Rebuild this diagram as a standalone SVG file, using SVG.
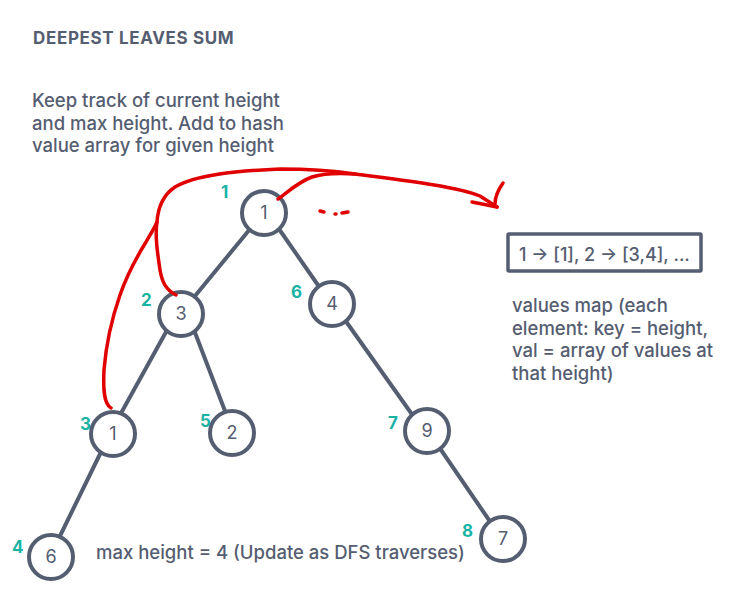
<svg xmlns="http://www.w3.org/2000/svg" width="746" height="607" viewBox="0 0 746 607">
<style>
.t{font-family:Inter,"Noto Sans","Liberation Sans",sans-serif;fill:#555d71;font-weight:500}
.title{font-family:Inter,"Noto Sans","Liberation Sans",sans-serif;fill:#555d71;font-weight:700;font-size:17px;letter-spacing:0.65px}
.node circle{fill:#fff;stroke:#555d71;stroke-width:4}
.node text{font-family:Inter,"Noto Sans","Liberation Sans",sans-serif;font-size:18px;fill:#555d71;text-anchor:middle}
.lbl{font-family:Inter,"Noto Sans","Liberation Sans",sans-serif;font-size:17px;font-weight:700;fill:#1ab3a4}
.edge{stroke:#555d71;stroke-width:4;stroke-linecap:round;fill:none}
.red{stroke:#e10000;stroke-width:3.5;stroke-linecap:round;stroke-linejoin:round;fill:none}
</style>
<rect width="746" height="607" fill="#fff"/>
<text class="title" x="33" y="44">DEEPEST LEAVES SUM</text>
<text class="t" font-size="18.5"><tspan x="32" y="107">Keep track of current height</tspan><tspan x="32" y="129.5">and max height. Add to hash</tspan><tspan x="32" y="152">value array for given height</tspan></text>
<g id="connectors">
<line class="edge" x1="250" y1="229" x2="195" y2="296"/>
<line class="edge" x1="279" y1="229" x2="320" y2="288"/>
<line class="edge" x1="166" y1="332" x2="120" y2="415"/>
<line class="edge" x1="194" y1="330" x2="225" y2="411"/>
<line class="edge" x1="345" y1="320" x2="411" y2="413"/>
<line class="edge" x1="439" y1="447" x2="489" y2="520"/>
<line class="edge" x1="101" y1="452" x2="60" y2="536"/>
</g>
<g id="n1" class="node"><circle cx="264" cy="213" r="22"/><text x="264" y="219">1</text></g>
<g id="n3" class="node"><circle cx="181" cy="314" r="22"/><text x="181" y="320">3</text></g>
<g id="n4" class="node"><circle cx="332" cy="304" r="22"/><text x="332" y="310">4</text></g>
<g id="n1b" class="node"><circle cx="113" cy="434" r="22"/><text x="113" y="440">1</text></g>
<g id="n2" class="node"><circle cx="232" cy="433" r="22"/><text x="232" y="439">2</text></g>
<g id="n9" class="node"><circle cx="427" cy="431" r="22"/><text x="427" y="437">9</text></g>
<g id="n7" class="node"><circle cx="503" cy="539" r="22"/><text x="503" y="545">7</text></g>
<g id="n6" class="node"><circle cx="51" cy="557" r="22"/><text x="51" y="563">6</text></g>
<g id="labels">
<text class="lbl" x="221" y="198">1</text>
<text class="lbl" x="141" y="306">2</text>
<text class="lbl" x="291" y="298">6</text>
<text class="lbl" x="80" y="430">3</text>
<text class="lbl" x="200" y="427">5</text>
<text class="lbl" x="388" y="429">7</text>
<text class="lbl" x="462" y="537">8</text>
<text class="lbl" x="12" y="553">4</text>
</g>
<g id="map">
<rect x="508" y="234" width="193" height="37" fill="none" stroke="#555d71" stroke-width="3.5" rx="1"/>
<text class="t" x="519" y="261" font-size="18">1 → [1], 2 → [3,4], ...</text>
</g>
<text class="t" font-size="18.5"><tspan x="512" y="312">values map (each</tspan><tspan x="512" y="335">element: key = height,</tspan><tspan x="512" y="357">val = array of values at</tspan><tspan x="512" y="380">that height)</tspan></text>
<text class="t" x="96" y="559" font-size="18.5">max height = 4 (Update as DFS traverses)</text>
<g id="traversal">
<path class="red" d="M176,295 C166,290 162,282 160,270 C157,250 155,235 157,222 C158,207 163,195 175,187 C195,175 235,171 280,169 C310,169 335,171 355,174 C400,180 455,186 480,196 L497,207"/>
<path class="red" d="M111,408 C104,404 103,390 104,370 C106,345 112,318 120,295 C128,272 138,255 146,242 C150,235 154,229 157,222"/>
<path class="red" d="M278,199 C288,192 298,182 312,177 C325,173 340,173 355,174"/>
<path class="red" d="M472,202 L497,207 M503,183 C498,190 495,198 495,204"/>
<path class="red" d="M320,211 L324,212 M335,214 L336,214 M342,213 L348,212"/>
</g>
</svg>
